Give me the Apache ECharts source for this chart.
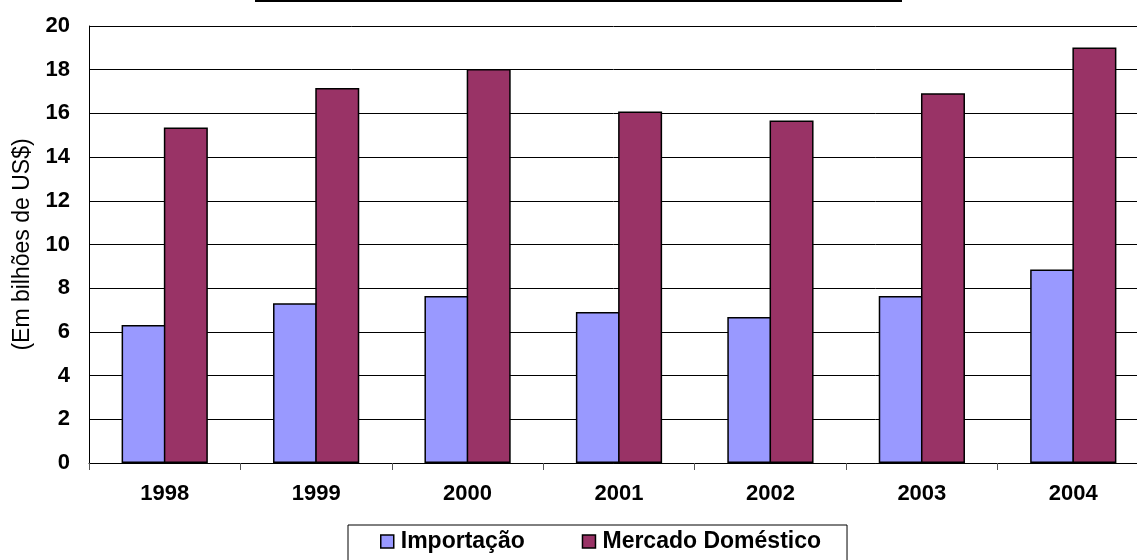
<!DOCTYPE html>
<html>
<head>
<meta charset="utf-8">
<script src="https://cdn.jsdelivr.net/npm/echarts@6/dist/echarts.min.js"></script>
<style>html,body{margin:0;padding:0;background:#fff}#c{width:1137px;height:560px}</style>
</head>
<body>
<div id="c"></div>
<script>
const categories = ['1998','1999','2000','2001','2002','2003','2004'];
const importacao = [6.32, 7.31, 7.64, 6.91, 6.68, 7.64, 8.86];
const mercado = [15.36, 17.16, 18.03, 16.09, 15.68, 16.92, 19.02];
const seriesNames = ['Importação', 'Mercado Doméstico'];
const yAxisName = '(Em bilhões de US$)';

const chart = echarts.init(document.getElementById('c'));
const font = 'Liberation Sans, Arial, sans-serif';
chart.setOption({
  animation: false,
  graphic: [{ type: 'rect', shape: { x: 255, y: 0, width: 647, height: 2 }, style: { fill: '#000' } }],
  grid: { left: 89, top: 26, width: 1060, height: 437, containLabel: false, outerBoundsMode: 'none' },
  legend: {
    left: 348, top: 525,
    padding: [5, 26, 30, 32],
    itemGap: 57, itemWidth: 13, itemHeight: 13,
    borderColor: '#000', borderWidth: 1,
    icon: 'rect',
    itemStyle: { borderColor: '#000', borderWidth: 1.5 },
    textStyle: { fontFamily: font, fontWeight: 'bold', fontSize: 23, color: '#000', padding: [0, 0, 0, 2] },
    data: seriesNames
  },
  xAxis: {
    type: 'category', data: categories,
    axisLine: { lineStyle: { color: '#000', width: 1 } },
    axisTick: { show: true, length: 7, lineStyle: { color: '#555' } },
    axisLabel: { fontFamily: font, fontWeight: 'bold', fontSize: 22, color: '#000', margin: 20 }
  },
  yAxis: {
    type: 'value', min: 0, max: 20, interval: 2,
    name: yAxisName, nameLocation: 'middle', nameGap: 55,
    nameTextStyle: { fontFamily: font, fontSize: 23, color: '#000' },
    axisLine: { show: true, lineStyle: { color: '#000', width: 1 } },
    axisTick: { show: false },
    splitLine: { lineStyle: { color: '#000', width: 1 } },
    axisLabel: { fontFamily: font, fontWeight: 'bold', fontSize: 22, color: '#000', margin: 19 }
  },
  series: [
    { name: seriesNames[0], type: 'bar', data: importacao, barWidth: 44, barGap: '-4%',
      itemStyle: { color: '#9999FF', borderColor: '#000', borderWidth: 1.5 } },
    { name: seriesNames[1], type: 'bar', data: mercado, barWidth: 44, barGap: '-4%',
      itemStyle: { color: '#993366', borderColor: '#000', borderWidth: 1.5 } }
  ]
});
</script>
</body>
</html>
